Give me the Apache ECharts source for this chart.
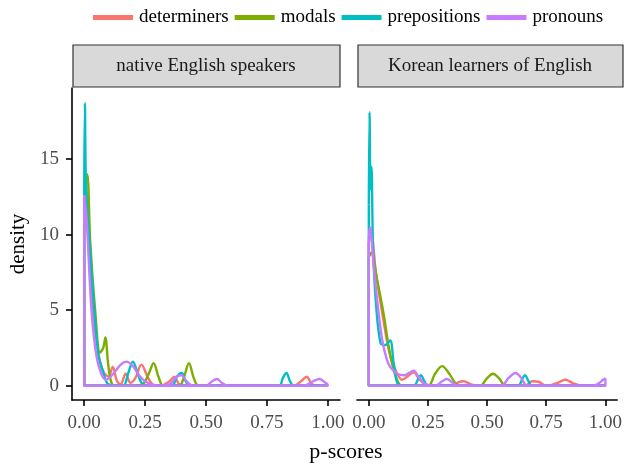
<!DOCTYPE html>
<html>
<head>
<meta charset="utf-8">
<script src="https://cdn.jsdelivr.net/npm/echarts@6/dist/echarts.min.js"></script>
<style>
  html, body { margin: 0; padding: 0; background: #fff; }
  #myChart { width: 625px; height: 464px; }
</style>
</head>
<body>
<div id="myChart"></div>
<script>
// nhóm từ và màu kiểu ggplot
var groups = ["determiners", "modals", "prepositions", "pronouns"];
var colors = ["#F8766D", "#7CAE00", "#00BFC4", "#C77CFF"];
var panels = ["native English speakers", "Korean learners of English"];
var xTicks = [0, 0.25, 0.5, 0.75, 1];
var yTicks = [0, 5, 10, 15];

// native English speakers: [p-score, density]
var nativeDet = [[0, 12.8], [0.005, 13.5], [0.02, 9], [0.04, 4.5], [0.06, 2.0], [0.08, 0.9], [0.1, 0.6], [0.117, 1.25], [0.135, 0.3], [0.15, 0.1], [0.17, 0.8], [0.19, 0.2], [0.21, 0.5], [0.235, 1.4], [0.26, 0.6], [0.28, 0.1], [0.31, 0], [0.35, 0.3], [0.37, 0.6], [0.39, 0.1], [0.42, 0], [0.86, 0], [0.89, 0.3], [0.913, 0.6], [0.935, 0.1], [0.96, 0], [1, 0]];
var nativeMod = [[0, 13], [0.012, 14], [0.025, 9.5], [0.045, 5], [0.065, 2.2], [0.078, 2.5], [0.087, 3.2], [0.098, 1.5], [0.11, 0.3], [0.125, 0], [0.2, 0], [0.24, 0.1], [0.265, 0.8], [0.285, 1.5], [0.305, 0.6], [0.325, 0], [0.39, 0], [0.41, 0.6], [0.43, 1.5], [0.45, 0.5], [0.47, 0], [1, 0]];
var nativePrep = [[0, 13], [0.003, 18.7], [0.008, 13], [0.026, 8.5], [0.046, 4.1], [0.06, 1.9], [0.08, 0.8], [0.1, 0.1], [0.16, 0], [0.18, 0.8], [0.2, 1.6], [0.22, 0.8], [0.24, 0.1], [0.27, 0], [0.36, 0], [0.38, 0.6], [0.4, 0.85], [0.42, 0.2], [0.44, 0], [0.8, 0], [0.815, 0.5], [0.83, 0.85], [0.845, 0.3], [0.86, 0], [1, 0]];
var nativePron = [[0, 12.6], [0.01, 11], [0.03, 5], [0.05, 2], [0.07, 0.8], [0.09, 0.4], [0.12, 0.8], [0.15, 1.4], [0.173, 1.6], [0.2, 1.3], [0.23, 0.6], [0.26, 0.2], [0.3, 0], [0.35, 0.1], [0.38, 0.6], [0.4, 0.7], [0.42, 0.3], [0.45, 0], [0.5, 0], [0.525, 0.3], [0.545, 0.45], [0.565, 0.2], [0.59, 0], [0.9, 0], [0.94, 0.3], [0.965, 0.45], [0.99, 0.2], [1, 0.1]];

// Korean learners of English
var koreanDet = [[0, 9.5], [0.01, 10], [0.03, 7.5], [0.06, 4.5], [0.09, 2], [0.12, 0.8], [0.14, 0.4], [0.17, 0.7], [0.19, 0.9], [0.21, 0.5], [0.24, 0.1], [0.3, 0], [0.35, 0], [0.38, 0.25], [0.4, 0.3], [0.43, 0.1], [0.46, 0], [0.66, 0], [0.69, 0.3], [0.72, 0.25], [0.75, 0], [0.8, 0.2], [0.83, 0.4], [0.86, 0.2], [0.9, 0], [1, 0]];
var koreanMod = [[0, 8.5], [0.01, 8.8], [0.035, 7], [0.062, 4.8], [0.085, 2.5], [0.105, 1.05], [0.125, 0.2], [0.14, 0], [0.25, 0], [0.28, 0.8], [0.31, 1.3], [0.34, 0.8], [0.37, 0.1], [0.4, 0], [0.47, 0], [0.5, 0.5], [0.525, 0.8], [0.55, 0.5], [0.58, 0], [1, 0]];
var koreanPrep = [[0, 12], [0.003, 18.1], [0.007, 13], [0.011, 14.5], [0.018, 9], [0.03, 5.5], [0.05, 2.8], [0.07, 2.7], [0.09, 3.0], [0.105, 1.5], [0.12, 0.2], [0.14, 0], [0.19, 0], [0.21, 0.5], [0.22, 0.7], [0.235, 0.3], [0.25, 0], [0.63, 0], [0.65, 0.5], [0.66, 0.7], [0.675, 0.3], [0.69, 0], [1, 0]];
var koreanPron = [[0, 9.8], [0.005, 10.5], [0.02, 8], [0.04, 5], [0.057, 3.0], [0.075, 1.8], [0.09, 1.25], [0.12, 0.8], [0.15, 0.7], [0.17, 0.85], [0.19, 1.0], [0.21, 0.6], [0.24, 0.1], [0.28, 0], [0.31, 0.3], [0.33, 0.45], [0.355, 0.2], [0.38, 0], [0.56, 0], [0.59, 0.5], [0.62, 0.85], [0.645, 0.5], [0.67, 0], [0.95, 0], [0.975, 0.2], [0.99, 0.4], [1, 0.5]];

var panelData = [
  [nativeDet, nativeMod, nativePrep, nativePron],
  [koreanDet, koreanMod, koreanPrep, koreanPron],
];

var FONT = "Liberation Serif";
var grids = [
  { left: 72, top: 88, width: 268, height: 312 },
  { left: 357, top: 88, width: 266, height: 312 },
];

var xAxes = [];
var yAxes = [];
var series = [];
var graphics = [];

for (var p = 0; p < 2; p++) {
  xAxes.push({
    type: "value",
    gridIndex: p,
    min: -0.05,
    max: 1.05,
    splitLine: { show: false },
    axisLine: { show: true, onZero: false, lineStyle: { color: "#000", width: 1.6 } },
    axisTick: { show: true, customValues: xTicks, length: 6, lineStyle: { color: "#000", width: 1.6 } },
    axisLabel: {
      customValues: xTicks,
      color: "#4d4d4d",
      fontFamily: FONT,
      fontSize: 19,
      margin: 14,
      formatter: function (v) { return v.toFixed(2); },
    },
  });
  yAxes.push({
    type: "value",
    gridIndex: p,
    min: -0.94,
    max: 19.7,
    splitLine: { show: false },
    axisLine: { show: p == 0, onZero: false, lineStyle: { color: "#000", width: 1.6 } },
    axisTick: { show: p == 0, customValues: yTicks, length: 6, lineStyle: { color: "#000", width: 1.6 } },
    axisLabel: { show: p == 0, customValues: yTicks, color: "#4d4d4d", fontFamily: FONT, fontSize: 19, margin: 13 },
    name: p == 0 ? "density" : "",
    nameLocation: "middle",
    nameRotate: 90,
    nameGap: 43,
    nameTextStyle: { color: "#000", fontFamily: FONT, fontSize: 21 },
  });

  for (var g = 0; g < 4; g++) {
    var d = panelData[p][g];
    var first = d[0];
    var last = d[d.length - 1];
    // đường cong mật độ
    series.push({
      name: groups[g],
      type: "line",
      xAxisIndex: p,
      yAxisIndex: p,
      data: d,
      smooth: 0.35,
      showSymbol: false,
      lineStyle: { color: colors[g], width: 2.4 },
      itemStyle: { color: colors[g] },
      z: 2 + g,
    });
    // viền đa giác (cạnh đứng và đáy) như geom_density
    series.push({
      name: groups[g],
      type: "line",
      xAxisIndex: p,
      yAxisIndex: p,
      data: [[first[0], first[1]], [first[0], 0], [last[0], 0], [last[0], last[1]]],
      showSymbol: false,
      lineStyle: { color: colors[g], width: 2.4 },
      itemStyle: { color: colors[g] },
      z: 2 + g,
    });
  }

  // strip tiêu đề panel
  graphics.push({
    type: "rect",
    shape: { x: grids[p].left + 1, y: 45, width: grids[p].width - 1, height: 42 },
    style: { fill: "#d9d9d9", stroke: "#333", lineWidth: 1.2 },
  });
  graphics.push({
    type: "text",
    x: grids[p].left + grids[p].width / 2,
    y: 66,
    style: { text: panels[p], fill: "#1a1a1a", font: "19px '" + FONT + "'", textAlign: "center", textVerticalAlign: "middle" },
  });
}

graphics.push({
  type: "text",
  x: 346,
  y: 452,
  style: { text: "p-scores", fill: "#000", font: "22px '" + FONT + "'", textAlign: "center", textVerticalAlign: "middle" },
});

var myChart = echarts.init(document.getElementById("myChart"));
var option = {
  animation: false,
  legend: {
    data: groups,
    top: 3,
    left: 88,
    icon: "rect",
    itemWidth: 40,
    itemHeight: 5,
    itemGap: 6,
    textStyle: { color: "#000", fontFamily: FONT, fontSize: 19, padding: [0, 0, 0, 1] },
  },
  grid: grids,
  xAxis: xAxes,
  yAxis: yAxes,
  series: series,
  graphic: graphics,
};
myChart.setOption(option);
</script>
</body>
</html>
